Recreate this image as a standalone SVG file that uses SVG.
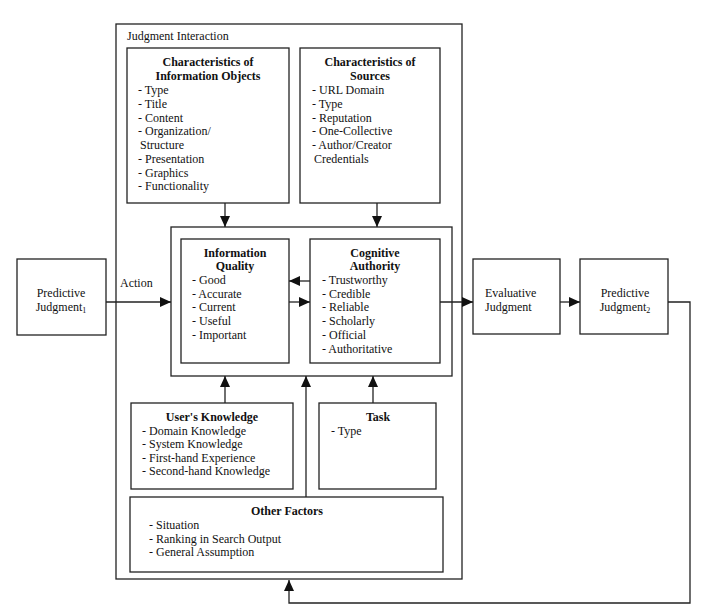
<svg xmlns="http://www.w3.org/2000/svg" width="701" height="613" viewBox="0 0 701 613">
<style>
text{font-family:"Liberation Serif","Times New Roman",serif;font-size:12px;fill:#111}
.h{font-weight:bold;text-anchor:middle}
.c{text-anchor:middle}
.box{fill:none;stroke:#222;stroke-width:1.3}
.ln{fill:none;stroke:#222;stroke-width:1.3}
</style>
<defs>
<marker id="arr" viewBox="0 0 11 10" markerWidth="11" markerHeight="10" refX="11" refY="5" orient="auto" markerUnits="userSpaceOnUse">
<path d="M0,0 L11,5 L0,10 z" fill="#111"/>
</marker>
</defs>
<rect width="701" height="613" fill="#fff"/>

<g id="judgment-interaction">
<rect class="box" x="116" y="24" width="346" height="555"/>
<text x="127" y="40">Judgment Interaction</text>
</g>

<g id="core">
<rect class="box" x="171" y="227" width="281" height="149"/>
</g>

<g id="info-objects">
<rect class="box" x="127" y="48" width="162" height="155"/>
<text class="h" x="208" y="66">Characteristics of</text>
<text class="h" x="208" y="80">Information Objects</text>
<text x="138" y="94">- Type</text>
<text x="138" y="108">- Title</text>
<text x="138" y="122">- Content</text>
<text x="138" y="135">- Organization/</text>
<text x="140" y="149">Structure</text>
<text x="138" y="163">- Presentation</text>
<text x="138" y="177">- Graphics</text>
<text x="138" y="190">- Functionality</text>
</g>

<g id="sources">
<rect class="box" x="300" y="48" width="140" height="155"/>
<text class="h" x="370" y="66">Characteristics of</text>
<text class="h" x="370" y="80">Sources</text>
<text x="312" y="94">- URL Domain</text>
<text x="312" y="108">- Type</text>
<text x="312" y="122">- Reputation</text>
<text x="312" y="135">- One-Collective</text>
<text x="312" y="149">- Author/Creator</text>
<text x="314" y="163">Credentials</text>
</g>

<g id="info-quality">
<rect class="box" x="181" y="239" width="108" height="124"/>
<text class="h" x="235" y="257">Information</text>
<text class="h" x="235" y="270">Quality</text>
<text x="192" y="284">- Good</text>
<text x="192" y="298">- Accurate</text>
<text x="192" y="311">- Current</text>
<text x="192" y="325">- Useful</text>
<text x="192" y="339">- Important</text>
</g>

<g id="cognitive-authority">
<rect class="box" x="310" y="239" width="130" height="124"/>
<text class="h" x="375" y="257">Cognitive</text>
<text class="h" x="375" y="270">Authority</text>
<text x="322" y="284">- Trustworthy</text>
<text x="322" y="298">- Credible</text>
<text x="322" y="311">- Reliable</text>
<text x="322" y="325">- Scholarly</text>
<text x="322" y="339">- Official</text>
<text x="322" y="353">- Authoritative</text>
</g>

<g id="users-knowledge">
<rect class="box" x="131" y="403" width="162" height="86"/>
<text class="h" x="212" y="421">User's Knowledge</text>
<text x="142" y="435">- Domain Knowledge</text>
<text x="142" y="448">- System Knowledge</text>
<text x="142" y="462">- First-hand Experience</text>
<text x="142" y="475">- Second-hand Knowledge</text>
</g>

<g id="task">
<rect class="box" x="319" y="403" width="117" height="86"/>
<text class="h" x="378" y="421">Task</text>
<text x="331" y="435">- Type</text>
</g>

<g id="other-factors">
<rect class="box" x="130" y="497" width="313" height="75"/>
<text class="h" x="287" y="515">Other Factors</text>
<text x="149" y="529">- Situation</text>
<text x="149" y="543">- Ranking in Search Output</text>
<text x="149" y="556">- General Assumption</text>
</g>

<g id="predictive-judgment-1">
<rect class="box" x="17" y="259" width="89" height="76"/>
<text class="c" x="61" y="297">Predictive</text>
<text class="c" x="61" y="311">Judgment<tspan font-size="8" dy="2">1</tspan></text>
</g>

<g id="evaluative-judgment">
<rect class="box" x="473" y="259" width="87" height="75"/>
<text x="485" y="297">Evaluative</text>
<text x="485" y="311">Judgment</text>
</g>

<g id="predictive-judgment-2">
<rect class="box" x="580" y="259" width="88" height="75"/>
<text class="c" x="625" y="297">Predictive</text>
<text class="c" x="625" y="311">Judgment<tspan font-size="8" dy="2">2</tspan></text>
</g>

<g id="connectors">
<line class="ln" x1="106" y1="302" x2="171" y2="302" marker-end="url(#arr)"/>
<text x="120" y="287">Action</text>
<line class="ln" x1="225" y1="203" x2="225" y2="227" marker-end="url(#arr)"/>
<line class="ln" x1="377" y1="203" x2="377" y2="227" marker-end="url(#arr)"/>
<line class="ln" x1="310" y1="281" x2="289" y2="281" marker-end="url(#arr)"/>
<line class="ln" x1="289" y1="302" x2="310" y2="302" marker-end="url(#arr)"/>
<line class="ln" x1="440" y1="302" x2="473" y2="302" marker-end="url(#arr)"/>
<line class="ln" x1="560" y1="302" x2="580" y2="302" marker-end="url(#arr)"/>
<polyline class="ln" points="668,302 690,302 690,603 289,603 289,580" marker-end="url(#arr)"/>
<line class="ln" x1="225" y1="403" x2="225" y2="376" marker-end="url(#arr)"/>
<line class="ln" x1="306" y1="497" x2="306" y2="376" marker-end="url(#arr)"/>
<line class="ln" x1="373" y1="403" x2="373" y2="376" marker-end="url(#arr)"/>
</g>
</svg>
